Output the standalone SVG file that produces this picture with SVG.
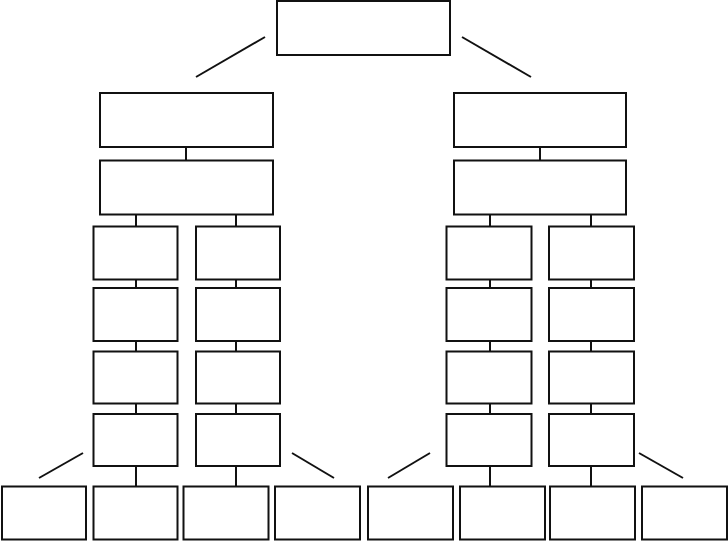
<svg xmlns="http://www.w3.org/2000/svg" width="728" height="541" viewBox="0 0 728 541">
<style>
.n{fill:#fff;stroke:#111;stroke-width:2}
.c{stroke:#111;stroke-width:2;fill:none}
</style>
<rect width="728" height="541" fill="#fff"/>
<g id="connectors" class="c">
<line x1="265" y1="37" x2="196" y2="77"/>
<line x1="462" y1="37" x2="531" y2="77"/>
<line x1="186" y1="147" x2="186" y2="160"/>
<line x1="540" y1="147" x2="540" y2="160"/>
<path d="M136 214.5V226.5M136 279.5V288M136 341V351.5M136 403.5V414M136 466V486.5"/>
<path d="M236 214.5V226.5M236 279.5V288M236 341V351.5M236 403.5V414M236 466V486.5"/>
<path d="M490 214.5V226.5M490 279.5V288M490 341V351.5M490 403.5V414M490 466V486.5"/>
<path d="M591 214.5V226.5M591 279.5V288M591 341V351.5M591 403.5V414M591 466V486.5"/>
<line x1="83" y1="453" x2="39" y2="478"/>
<line x1="292" y1="453" x2="334" y2="478"/>
<line x1="430" y1="453" x2="388" y2="478"/>
<line x1="639" y1="453" x2="683" y2="478"/>
</g>
<g id="top"><rect class="n" x="277" y="1" width="173" height="54"/></g>
<g id="l1"><rect class="n" x="100" y="93" width="173" height="54"/></g>
<g id="l2"><rect class="n" x="100" y="160.5" width="173" height="54"/></g>
<g id="r1"><rect class="n" x="454" y="93" width="172" height="54"/></g>
<g id="r2"><rect class="n" x="454" y="160.5" width="172" height="54"/></g>
<g id="la1"><rect class="n" x="93.5" y="226.5" width="84" height="53"/></g>
<g id="la2"><rect class="n" x="93.5" y="288" width="84" height="53"/></g>
<g id="la3"><rect class="n" x="93.5" y="351.5" width="84" height="52"/></g>
<g id="la4"><rect class="n" x="93.5" y="414" width="84" height="52"/></g>
<g id="lb1"><rect class="n" x="196" y="226.5" width="84" height="53"/></g>
<g id="lb2"><rect class="n" x="196" y="288" width="84" height="53"/></g>
<g id="lb3"><rect class="n" x="196" y="351.5" width="84" height="52"/></g>
<g id="lb4"><rect class="n" x="196" y="414" width="84" height="52"/></g>
<g id="ra1"><rect class="n" x="446.5" y="226.5" width="85" height="53"/></g>
<g id="ra2"><rect class="n" x="446.5" y="288" width="85" height="53"/></g>
<g id="ra3"><rect class="n" x="446.5" y="351.5" width="85" height="52"/></g>
<g id="ra4"><rect class="n" x="446.5" y="414" width="85" height="52"/></g>
<g id="rb1"><rect class="n" x="549" y="226.5" width="85" height="53"/></g>
<g id="rb2"><rect class="n" x="549" y="288" width="85" height="53"/></g>
<g id="rb3"><rect class="n" x="549" y="351.5" width="85" height="52"/></g>
<g id="rb4"><rect class="n" x="549" y="414" width="85" height="52"/></g>
<g id="b1"><rect class="n" x="2" y="486.5" width="84" height="53"/></g>
<g id="b2"><rect class="n" x="93.5" y="486.5" width="84" height="53"/></g>
<g id="b3"><rect class="n" x="183.5" y="486.5" width="85" height="53"/></g>
<g id="b4"><rect class="n" x="275" y="486.5" width="85" height="53"/></g>
<g id="b5"><rect class="n" x="368" y="486.5" width="85" height="53"/></g>
<g id="b6"><rect class="n" x="460" y="486.5" width="85" height="53"/></g>
<g id="b7"><rect class="n" x="550" y="486.5" width="85" height="53"/></g>
<g id="b8"><rect class="n" x="642" y="486.5" width="85" height="53"/></g>
</svg>
